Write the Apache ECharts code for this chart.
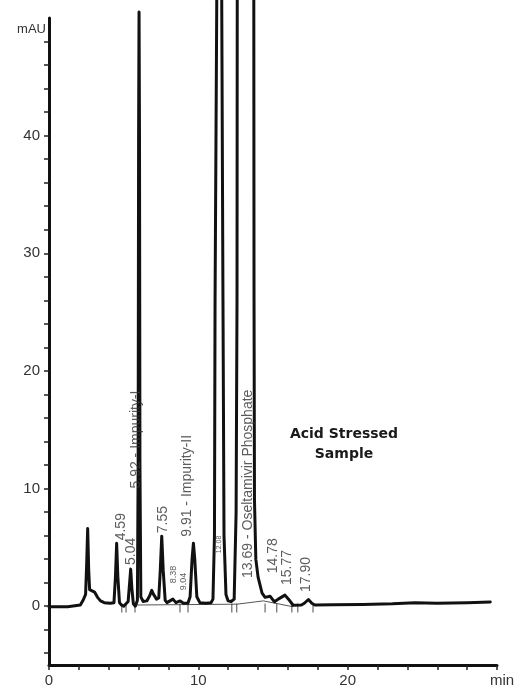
<!DOCTYPE html>
<html><head><meta charset="utf-8">
<script src="https://cdn.jsdelivr.net/npm/echarts@6/dist/echarts.min.js"></script>
<style>html,body{margin:0;padding:0;background:#fff}#c{width:518px;height:688px}</style>
</head><body><div id="c"></div>
<script>
// Chromatogram trace (time in min, signal in mAU)
const traceTime = [0.00,1.25,1.35,2.10,2.30,2.45,2.52,2.59,2.66,2.72,2.85,3.05,3.25,3.45,3.70,4.10,4.35,4.45,4.53,4.61,4.72,4.85,5.00,5.12,5.30,5.40,5.47,5.55,5.65,5.78,5.92,5.97,6.00,6.03,6.06,6.09,6.15,6.30,6.55,6.75,6.88,7.00,7.20,7.35,7.45,7.55,7.65,7.78,7.90,8.10,8.30,8.50,8.78,9.00,9.30,9.45,9.58,9.67,9.76,9.90,10.10,10.50,10.85,10.98,11.08,11.12,11.23,11.30,11.50,11.57,11.65,11.72,11.85,11.99,12.20,12.40,12.46,12.53,12.59,12.62,13.70,13.73,13.76,13.85,14.00,14.27,14.47,14.60,14.80,15.10,15.35,15.80,16.10,16.35,16.90,17.10,17.37,17.60,17.80,19.00,21.00,23.00,24.50,26.00,28.00,29.55];
const traceMAU  = [-0.05,-0.05,0.08,0.10,0.55,1.0,3.5,6.6,3.0,1.4,1.35,1.2,0.75,0.45,0.30,0.25,0.30,2.5,5.35,2.5,0.30,0.10,0.0,-0.05,0.4,2.0,3.15,1.5,0.2,0.0,0.5,12,40,50.5,40,12,0.8,0.4,0.45,0.9,1.35,1.0,0.6,0.7,3.0,5.95,3.0,0.5,0.3,0.45,0.6,0.3,0.45,0.25,0.25,0.8,4.0,5.35,4.0,0.8,0.3,0.25,0.3,0.6,6,26,50.5,75,75,50.5,26,6,1.0,0.45,0.4,0.6,0.7,8,26,75,75,26,9,4,2.47,1.1,0.75,0.65,0.85,0.37,0.6,0.94,0.5,0.08,0.1,0.25,0.57,0.25,0.1,0.12,0.15,0.2,0.3,0.25,0.3,0.35];

// Peak annotations (rotated labels)
const peakLabels    = ['4.59','5.04','5.92 - Impurity-I','7.55','8.38','9.04','9.91 - Impurity-II','12.08','13.69 - Oseltamivir Phosphate','14.78','15.77','17.90'];
const peakLabelTime = [4.80,5.49,5.83,7.64,8.37,8.98,9.24,11.39,13.36,15.00,15.94,17.21];
const peakLabelMAU  = [5.6,3.5,10.0,6.2,1.95,1.35,5.9,4.5,2.4,2.8,1.8,1.2];

// Integration baseline and peak start/end markers
const baselineTime = [5.90,12.60,14.35,16.35];
const baselineMAU  = [0.10,0.17,0.45,-0.05];
const markerTime = [4.87,5.16,5.76,8.77,9.31,12.24,12.57,14.47,15.25,16.26,16.66,17.68];

// Axis ticks and labels
const yTickValues  = [-4,-2,0,2,4,6,8,10,12,14,16,18,20,22,24,26,28,30,32,34,36,38,40,42,44,46,48];
const yLabelValues = [0,10,20,30,40];
const xTickValues  = [0,2,4,6,8,10,12,14,16,18,20,22,24,26,28,30];
const xLabelValues = [0,10,20];

const smallLabels = {'8.38':9,'9.04':9,'12.08':7};

const chart = echarts.init(document.getElementById('c'), null, {renderer:'canvas'});
const font = 'Liberation Sans';
chart.setOption({
  animation:false,
  backgroundColor:'#fff',
  grid:{left:49, right:21, top:18, bottom:23, containLabel:false},
  xAxis:{
    type:'value', min:0, max:30,
    axisLine:{show:true, onZero:false, lineStyle:{color:'#111', width:3}},
    axisTick:{show:true, customValues:xTickValues, length:5, lineStyle:{color:'#222', width:1.5}},
    axisLabel:{customValues:xLabelValues, margin:8, fontSize:15, color:'#333', fontFamily:font},
    splitLine:{show:false},
    name:'min', nameLocation:'end', nameGap:-7,
    nameTextStyle:{align:'left', verticalAlign:'top', padding:[8,0,0,0], fontSize:15, color:'#333', fontFamily:font}
  },
  yAxis:{
    type:'value', min:-5, max:50,
    axisLine:{show:true, onZero:false, lineStyle:{color:'#111', width:3}},
    axisTick:{show:true, customValues:yTickValues, length:5, lineStyle:{color:'#222', width:1.5}},
    axisLabel:{customValues:yLabelValues, margin:9, fontSize:15, color:'#333', fontFamily:font},
    splitLine:{show:false},
    name:'mAU', nameLocation:'end', nameGap:-11,
    nameTextStyle:{align:'right', verticalAlign:'middle', padding:[0,3,0,0], fontSize:13, color:'#333', fontFamily:font}
  },
  graphic:[{
    type:'text', x:344, y:424,
    style:{text:'Acid Stressed\nSample', font:'bold 14px "DejaVu Sans"', fill:'#1a1a1a', textAlign:'center', textVerticalAlign:'top', lineHeight:20}
  }],
  series:[
    {
      type:'line', name:'baseline', data:baselineTime.map((t,i)=>[t,baselineMAU[i]]),
      showSymbol:false, symbol:'none', lineStyle:{color:'#555', width:1}, z:2, silent:true
    },
    {
      type:'scatter', name:'markers', data:markerTime.map(t=>[t,-0.15]),
      symbol:'rect', symbolSize:[1.2,9], itemStyle:{color:'#444'}, z:2, silent:true
    },
    {
      type:'line', name:'trace', data:traceTime.map((t,i)=>[t,traceMAU[i]]),
      showSymbol:false, symbol:'none', clip:false,
      lineStyle:{color:'#111', width:3, join:'round', cap:'round'}, z:4, silent:true
    },
    {
      type:'scatter', name:'labels', symbolSize:0, z:5, silent:true,
      data:peakLabels.map((s,i)=>({
        value:[peakLabelTime[i],peakLabelMAU[i]], name:s,
        label:{fontSize: smallLabels[s] || 14}
      })),
      label:{show:true, formatter:p=>p.name, position:[0,0], rotate:90, align:'left', verticalAlign:'middle',
        color:'#333', fontFamily:font, fontSize:14}
    }
  ]
});
</script></body></html>
